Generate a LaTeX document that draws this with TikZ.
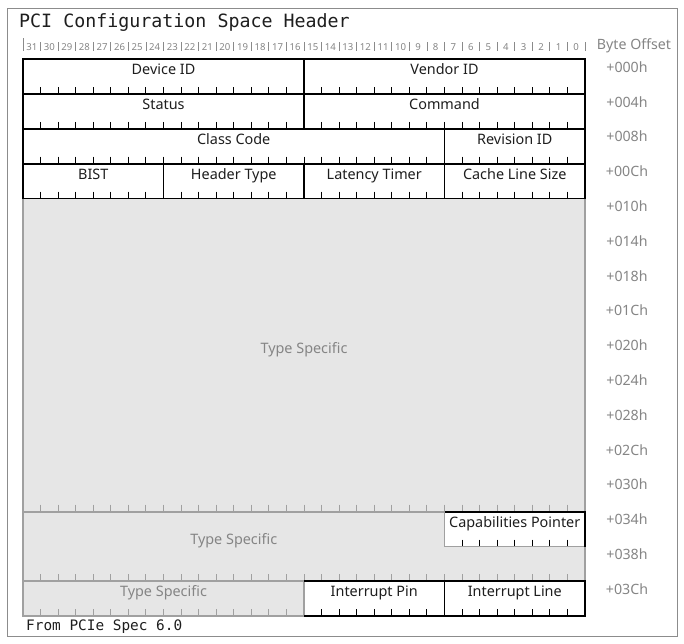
\documentclass[tikz,border=0pt]{standalone}
\usepackage{fontspec}
\setmainfont{Noto Sans}
\setmonofont{DejaVu Sans Mono}
\usepackage{xcolor}
\definecolor{regtext}{HTML}{1E1E1E}
\definecolor{reggraytext}{HTML}{858585}
\definecolor{regfill}{HTML}{E6E6E6}
\definecolor{regstroke}{HTML}{A0A0A0}
\definecolor{regouter}{HTML}{8C8C8C}
\definecolor{regruler}{HTML}{8A8A8A}
\tikzset{
  regblack/.style={draw=black, line width=1.8pt},
  reggray/.style={draw=regstroke, line width=1.8pt},
  regtick/.style={draw=black, line width=0.9pt},
  reggtick/.style={draw=regstroke, line width=0.9pt},
  regframe/.style={draw=regouter, line width=1pt},
  rulesep/.style={draw=regruler, line width=0.8pt},
  fieldtext/.style={font=\fontsize{14.4}{16}\selectfont, text=regtext, inner sep=0pt, anchor=base},
  spectext/.style={font=\fontsize{14.4}{16}\selectfont, text=reggraytext, inner sep=0pt, anchor=base},
  offsettext/.style={font=\fontsize{14.2}{16}\selectfont, text=reggraytext, inner sep=0pt, anchor=base},
  bitnum/.style={font=\fontsize{9.6}{11}\selectfont, text=reggraytext, inner sep=0pt, anchor=base},
  monotext/.style={font=\ttfamily, text=regtext, inner sep=0pt, anchor=west}
}

\begin{document}
\begin{tikzpicture}[x=1pt,y=-1pt]
  % grid origin, bit width and row height (pixels, y downwards)
  \def\gx{23} \def\gy{59.3} \def\bw{17.5625} \def\rh{34.8}
  \def\bx#1{(\gx+(#1)*\bw)}
  \def\ry#1{(\gy+(#1)*\rh)}
  \useasboundingbox (0,0) rectangle (684,643);
  \draw[regframe] (7,8) rectangle (677,636);
  \node[monotext, font=\ttfamily\fontsize{18.3}{20}\selectfont] (title) at (19,23) {PCI Configuration Space Header};
  % bit ruler 31..0
  \foreach \b in {0,...,31} {
    \pgfmathtruncatemacro\n{31-\b}
    \node[bitnum] (bit\n) at ({\bx{\b+0.5}},50) {\n};
    \draw[rulesep] ({\bx{\b}},42) -- ({\bx{\b}},51);
  }
  \draw[rulesep] ({\bx{32}},42) -- ({\bx{32}},51);
  \draw[rulesep] ({\bx{0}},38) -- ({\bx{0}},42);
  % byte offsets
  \node[offsettext] (hdr) at (634,49.5) {Byte Offset};
  \foreach \r/\ofs in {0/000,1/004,2/008,3/00C,4/010,5/014,6/018,7/01C,
                      8/020,9/024,10/028,11/02C,12/030,13/034,14/038,15/03C} {
    \node[offsettext] (off\r) at (627,{\ry{\r}+13}) {+\ofs h};
  }
  % shaded type specific area
  \fill[regfill] ({\bx{0}},{\ry{4}}) rectangle ({\bx{32}},{\ry{16}});
  \draw[reggray] ({\bx{0}},{\ry{4}}) rectangle ({\bx{32}},{\ry{16}});
  \draw[reggray] ({\bx{0}},{\ry{13}}) -- ({\bx{32}},{\ry{13}});
  \draw[reggray] ({\bx{0}},{\ry{15}}) -- ({\bx{32}},{\ry{15}});
  \foreach \b in {1,...,31} {
    \draw[reggtick] ({\bx{\b}},{\ry{13}-7}) -- ({\bx{\b}},{\ry{13}});
    \draw[reggtick] ({\bx{\b}},{\ry{15}-7}) -- ({\bx{\b}},{\ry{15}});
  }
  \foreach \b in {1,...,15} {
    \draw[reggtick] ({\bx{\b}},{\ry{16}-7}) -- ({\bx{\b}},{\ry{16}});
  }
  \node[spectext] (spec1) at ({\bx{16}},353) {Type Specific};
  \node[spectext] (spec2) at ({\bx{12}},544) {Type Specific};
  \node[spectext] (spec3) at ({\bx{8}},{\ry{15}+15.5}) {Type Specific};
  % header fields: low bit / high bit / row / label / name
  \foreach \lo/\hi/\r/\lab/\nm in {0/16/0/Device ID/devid, 16/32/0/Vendor ID/vendid,
      0/16/1/Status/status, 16/32/1/Command/command,
      0/24/2/Class Code/class, 24/32/2/Revision ID/revid,
      0/8/3/BIST/bist, 8/16/3/Header Type/hdrtype, 16/24/3/Latency Timer/lattimer,
      24/32/3/Cache Line Size/clsize} {
    \fill[white] ({\bx{\lo}},{\ry{\r}}) rectangle ({\bx{\hi}},{\ry{\r+1}});
    \pgfmathtruncatemacro\ta{\lo+1}
    \pgfmathtruncatemacro\tb{\hi-1}
    \foreach \b in {\ta,...,\tb} {
      \draw[regtick] ({\bx{\b}},{\ry{\r+1}-7}) -- ({\bx{\b}},{\ry{\r+1}});
    }
    \draw[regblack] ({\bx{\lo}},{\ry{\r}}) rectangle ({\bx{\hi}},{\ry{\r+1}});
    \node[fieldtext] (\nm) at ({\bx{(\lo+\hi)/2}},{\ry{\r}+15.5}) {\lab};
  }
  % capabilities pointer (left and bottom edge stay gray)
  \fill[white] ({\bx{24}},{\ry{13}}) rectangle ({\bx{32}},{\ry{14}});
  \foreach \b in {25,...,31} {
    \draw[regtick] ({\bx{\b}},{\ry{14}-7}) -- ({\bx{\b}},{\ry{14}});
  }
  \draw[reggray] ({\bx{24}},{\ry{13}}) -- ({\bx{24}},{\ry{14}}) -- ({\bx{32}},{\ry{14}});
  \draw[regblack] ({\bx{24}},{\ry{13}}) -- ({\bx{32}},{\ry{13}}) -- ({\bx{32}},{\ry{14}});
  \node[fieldtext] (capptr) at ({\bx{28}},{\ry{13}+15.5}) {Capabilities Pointer};
  % interrupt pin / line
  \fill[white] ({\bx{16}},{\ry{15}}) rectangle ({\bx{32}},{\ry{16}});
  \foreach \b in {17,...,23,25,26,...,31} {
    \draw[regtick] ({\bx{\b}},{\ry{16}-7}) -- ({\bx{\b}},{\ry{16}});
  }
  \draw[reggray] ({\bx{16}},{\ry{15}}) -- ({\bx{16}},{\ry{16}});
  \draw[regblack] ({\bx{16}},{\ry{15}}) -- ({\bx{32}},{\ry{15}}) -- ({\bx{32}},{\ry{16}}) -- ({\bx{16}},{\ry{16}});
  \draw[regblack] ({\bx{24}},{\ry{15}}) -- ({\bx{24}},{\ry{16}});
  \node[fieldtext] (intpin) at ({\bx{20}},{\ry{15}+15.5}) {Interrupt Pin};
  \node[fieldtext] (intline) at ({\bx{28}},{\ry{15}+15.5}) {Interrupt Line};
  % source note
  \node[monotext, font=\ttfamily\fontsize{14.4}{16}\selectfont] (source) at (26,627) {From PCIe Spec 6.0};
\end{tikzpicture}
\end{document}
